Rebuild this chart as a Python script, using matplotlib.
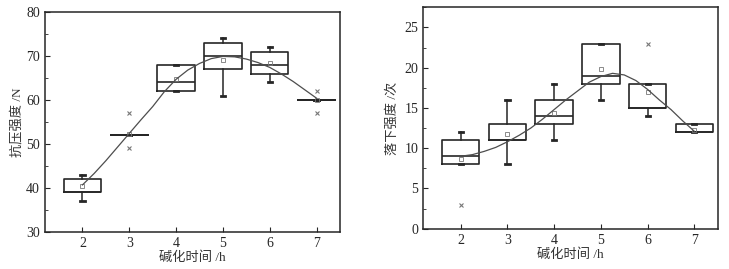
import matplotlib
matplotlib.use("Agg")
import matplotlib.pyplot as plt
from matplotlib.ticker import MultipleLocator

# ---------------- data ----------------
times = [2, 3, 4, 5, 6, 7]

# left: 抗压强度 /N
L_q1 = [39, 52, 62, 67, 66, 60]
L_med = [39, 52, 64, 70, 68, 60]
L_q3 = [42, 52, 68, 73, 71, 60]
L_lo = [37, 52, 62, 61, 64, 60]
L_hi = [43, 52, 68, 74, 72, 60]
L_mean = [40.5, 52.3, 64.7, 69.0, 68.3, 60.0]
L_out = [[], [57, 49], [], [], [], [62, 57]]
L_curve_x = [2.0, 2.25, 2.5, 2.75, 3.0, 3.25, 3.5, 3.75, 4.0, 4.25, 4.5,
             4.75, 5.0, 5.25, 5.5, 5.75, 6.0, 6.25, 6.5, 6.75, 7.0]
L_curve_y = [40.7, 43.3, 46.2, 49.3, 52.4, 55.5, 58.5, 61.9, 64.7, 66.8, 68.3,
             69.4, 69.9, 69.8, 69.3, 68.5, 67.4, 65.9, 64.2, 62.3, 60.4]

# right: 落下强度 /次
R_q1 = [8, 11, 13, 18, 15, 12]
R_med = [9, 11, 14, 19, 15, 12]
R_q3 = [11, 13, 16, 23, 18, 13]
R_lo = [8, 8, 11, 16, 14, 12]
R_hi = [12, 16, 18, 23, 18, 13]
R_mean = [8.6, 11.8, 14.4, 19.8, 17.0, 12.3]
R_out = [[3], [], [], [], [23], []]
R_curve_x = [2.0, 2.25, 2.5, 2.75, 3.0, 3.25, 3.5, 3.75, 4.0, 4.25, 4.5,
             4.75, 5.0, 5.25, 5.5, 5.75, 6.0, 6.25, 6.5, 6.75, 7.0]
R_curve_y = [9.0, 9.2, 9.6, 10.1, 10.8, 11.6, 12.5, 13.6, 14.8, 16.0, 17.1,
             18.2, 18.9, 19.3, 19.1, 18.4, 17.3, 16.0, 14.8, 13.4, 12.1]

xlabel = "碱化时间 /h"
L_ylabel = "抗压强度 /N"
R_ylabel = "落下强度 /次"

# ---------------- style ----------------
FAM = ["Liberation Serif", "Noto Sans CJK SC"]
plt.rcParams["font.family"] = FAM
plt.rcParams["axes.unicode_minus"] = False
dark = "#262626"
gray = "#777777"

fig = plt.figure(figsize=(7.29, 2.69), dpi=100)
axL = fig.add_axes([0.0617, 0.1375, 0.4047, 0.818])
axR = fig.add_axes([0.5807, 0.1498, 0.4038, 0.823])


def draw(ax, q1, med, q3, lo, hi, mean, out, cx, cy):
    stats = []
    for i in range(len(times)):
        stats.append(dict(q1=q1[i], med=med[i], q3=q3[i], whislo=lo[i],
                          whishi=hi[i], mean=mean[i], fliers=out[i]))
    ax.bxp(stats, positions=times, widths=0.8, showmeans=True,
           showfliers=True, patch_artist=False, capwidths=0.09,
           boxprops=dict(color=dark, linewidth=1.2),
           medianprops=dict(color=dark, linewidth=1.2),
           whiskerprops=dict(color=dark, linewidth=1.1),
           capprops=dict(color=dark, linewidth=2.0),
           meanprops=dict(marker="s", markersize=3, markerfacecolor="none",
                          markeredgecolor=gray, markeredgewidth=0.6),
           flierprops=dict(marker="x", markersize=3, markeredgecolor=gray,
                           markeredgewidth=0.8))
    ax.plot(cx, cy, color="#4d4d4d", linewidth=0.9, zorder=5)
    ax.set_xlim(1.2, 7.5)
    ax.set_xticks(times)
    ax.set_xticklabels([str(t) for t in times])
    ax.tick_params(axis="both", which="both", direction="in", labelsize=10,
                   colors=dark, labelcolor=dark)
    ax.tick_params(which="major", length=3.5, width=0.8)
    ax.tick_params(which="minor", length=2, width=0.6)
    for s in ax.spines.values():
        s.set_linewidth(1.1)
        s.set_color(dark)
    ax.set_xlabel(xlabel, fontsize=9.5, color="#333333", labelpad=1)


draw(axL, L_q1, L_med, L_q3, L_lo, L_hi, L_mean, L_out, L_curve_x, L_curve_y)
axL.set_ylim(30, 80)
axL.yaxis.set_major_locator(MultipleLocator(10))
axL.yaxis.set_minor_locator(MultipleLocator(5))
axL.set_ylabel(L_ylabel, fontsize=9.5, color="#333333", labelpad=2)

draw(axR, R_q1, R_med, R_q3, R_lo, R_hi, R_mean, R_out, R_curve_x, R_curve_y)
axR.set_ylim(0, 27.5)
axR.yaxis.set_major_locator(MultipleLocator(5))
axR.yaxis.set_minor_locator(MultipleLocator(2.5))
axR.set_ylabel(R_ylabel, fontsize=9.5, color="#333333", labelpad=4)

fig.savefig("out.png", dpi=100)
